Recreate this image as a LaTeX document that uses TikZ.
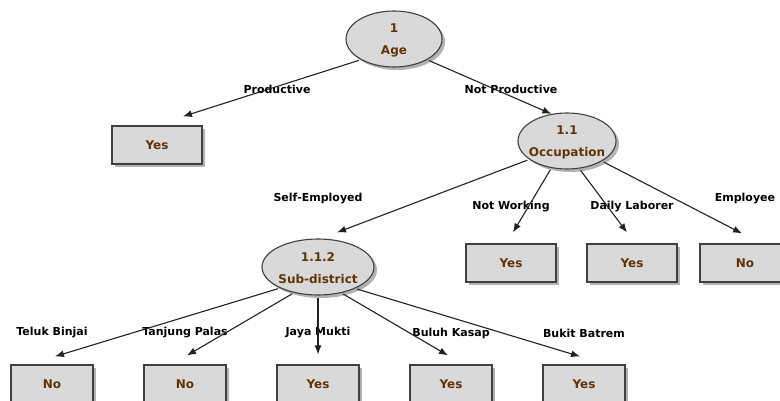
\documentclass[tikz,border=0pt]{standalone}
\usepackage{fontspec}
\setmainfont{DejaVu Sans}
\usetikzlibrary{shapes.geometric, shadows, arrows.meta}
\definecolor{nodefill}{RGB}{217,217,217}
\definecolor{nodeline}{RGB}{64,64,64}
\definecolor{nodetext}{RGB}{96,52,8}
\definecolor{edgecol}{RGB}{34,34,34}
\tikzstyle{shade} = [drop shadow={shadow xshift=3pt,shadow yshift=-3pt,fill=black!30,opacity=1}]
\tikzstyle{split} = [ellipse,draw=nodeline,line width=1.1pt,fill=nodefill,shade,inner sep=-20pt,minimum height=56pt]
\tikzstyle{leaf} = [rectangle,draw=nodeline,line width=1.1pt,fill=nodefill,shade,minimum width=90pt,minimum height=38pt,text=nodetext,font=\bfseries\fontsize{12}{14}\selectfont]
\tikzstyle{small} = [leaf,minimum width=82pt]
\tikzstyle{title} = [text=nodetext,align=center,yshift=-1pt,font=\bfseries\fontsize{12}{22}\selectfont]
\tikzstyle{branch} = [text=black,font=\bfseries\fontsize{11}{13}\selectfont]
\tikzstyle{edge} = [draw=edgecol,line width=1.1pt,shorten <=2pt,-{Latex[length=9pt,width=7pt]}]

\begin{document}
\begin{tikzpicture}[x=1pt,y=-1pt]
		\useasboundingbox (0,0) rectangle (780,401);
		\node [split,minimum width=96pt,label={[title]center:1\\Age}](age) at (394,39){};
		\node [split,minimum width=98pt,label={[title]center:1.1\\Occupation}](occ) at (567,141){};
		\node [split,minimum width=112pt,label={[title]center:1.1.2\\Sub-district}](sub) at (318,267){};
		\node [leaf](yes1) at (157,145){Yes};
		\node [leaf](notw) at (511,263){Yes};
		\node [leaf](daily) at (632,263){Yes};
		\node [leaf](empl) at (745,263){No};
		\node [small](teluk) at (52,384){No};
		\node [small](tanj) at (185,384){No};
		\node [small](jaya) at (318,384){Yes};
		\node [small](buluh) at (451,384){Yes};
		\node [small](bukit) at (584,384){Yes};

		\node [branch](lprod) at (277,89){Productive};
		\node [branch](lnprod) at (511,89){Not Productive};
		\node [branch](lself) at (318,199){Self-Employed};
		\node [branch](lnotw) at (511,207){Not Working};
		\node [branch](ldaily) at (632,207){Daily Laborer};
		\node [branch](lempl) at (745,199){Employee};
		\node [branch](lteluk) at (52,333){Teluk Binjai};
		\node [branch](ltanj) at (185,333){Tanjung Palas};
		\node [branch](ljaya) at (318,333){Jaya Mukti};
		\node [branch](lbuluh) at (451,333){Buluh Kasap};
		\node [branch](lbukit) at (584,333){Bukit Batrem};

		\draw[edge](age.212)--([xshift=26pt,yshift=9pt]yes1.north);
		\draw[edge](age.328)--(occ.120);
		\draw[edge](occ.206)--([xshift=19pt,yshift=6pt]sub.north);
		\draw[edge](occ.240)--([xshift=2pt,yshift=11pt]notw.north);
		\draw[edge](occ.294)--([xshift=-5pt,yshift=11pt]daily.north);
		\draw[edge](occ.330)--([xshift=-3pt,yshift=10pt]empl.north);
		\draw[edge](sub.209)--([xshift=3pt,yshift=8pt]teluk.north);
		\draw[edge](sub.227)--([xshift=2pt,yshift=9pt]tanj.north);
		\draw[edge](sub.270)--([yshift=10pt]jaya.north);
		\draw[edge](sub.312)--([xshift=-3pt,yshift=9pt]buluh.north);
		\draw[edge](sub.330)--([xshift=-4pt,yshift=8pt]bukit.north);
\end{tikzpicture}
\end{document}
